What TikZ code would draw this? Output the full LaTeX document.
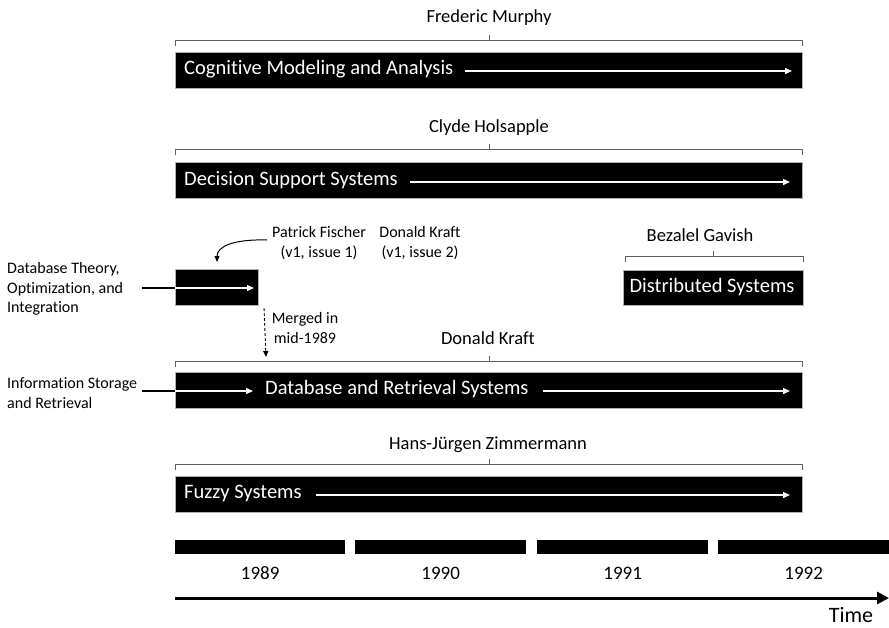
\documentclass[tikz,border=0pt]{standalone}
\usepackage{fontspec}
\setmainfont{Carlito}[Ligatures=NoCommon]
\usetikzlibrary{arrows.meta}
\begin{document}
\begin{tikzpicture}[x=1pt,y=-1pt,
 bar/.style={fill=black, draw=gray!60, line width=0.6pt, anchor=north west, inner sep=0pt},
 bartext/.style={text=white, font=\fontsize{20.5}{24}\selectfont, anchor=west, inner sep=0pt, text height=14pt, text depth=4.5pt},
 lbl/.style={font=\fontsize{18.5}{22}\selectfont, inner sep=0pt},
 side/.style={font=\fontsize{16}{19.5}\selectfont, align=left, anchor=west, inner sep=0pt},
 note/.style={font=\fontsize{16}{20}\selectfont, align=center, inner sep=0pt},
 warr/.style={white, line width=1.4pt, -{Triangle[length=7pt,width=6pt]}},
 karr/.style={black, line width=1.2pt, -{Triangle[length=7pt,width=6pt]}},
 brk/.style={draw=gray!75!black, line width=0.8pt},
 yearbar/.style={fill=black, draw=none, anchor=north west, inner sep=0pt, minimum height=14pt},
]
\useasboundingbox (0,0) rectangle (889,627);

% ---- Row 1: Cognitive Modeling and Analysis
\node[lbl] (l1) at (489,18) {Frederic Murphy};
\draw[brk] (175,46) -- (175,40) -- (802,40) -- (802,46);
\draw[brk] (489,40) -- (489,35);
\node[bar, minimum width=627pt, minimum height=36pt] (b1) at (175,52) {};
\node[bartext] (t1) at (184,70) {Cognitive Modeling and Analysis};
\coordinate (e1) at (792,71);
\draw[warr] ([xshift=12pt]t1.east |- e1) -- (e1);

% ---- Row 2: Decision Support Systems
\node[lbl] (l2) at (489,128) {Clyde Holsapple};
\draw[brk] (175,155) -- (175,149) -- (802,149) -- (802,155);
\draw[brk] (489,149) -- (489,144);
\node[bar, minimum width=627pt, minimum height=36pt] (b2) at (175,162) {};
\node[bartext] (t2) at (184,181) {Decision Support Systems};
\coordinate (e2) at (790,182);
\draw[warr] ([xshift=12pt]t2.east |- e2) -- (e2);

% ---- Row 3: Database Theory box and Distributed Systems
\node[side] (dbt) at (7,289) {Database Theory,\\Optimization, and\\Integration};
\node[bar, minimum width=83pt, minimum height=36pt] (b3) at (175,269) {};
\coordinate (s3) at (142,288);
\coordinate (e3) at (254,288);
\draw[karr, -] (s3) -- (b3.west |- e3);
\draw[warr] (b3.west |- e3) -- (e3);

\node[note] (pf) at (319,243) {Patrick Fischer\\(v1, issue 1)};
\node[note] (dk1) at (420,243) {Donald Kraft\\(v1, issue 2)};
\coordinate (cs) at (267,240);
\coordinate (ce) at (217,262);
\draw[black, line width=1pt, -{Triangle[length=6pt,width=5pt]}] (cs) .. controls (232,239) and (217,247) .. (ce);

\node[lbl] (l3) at (700,235) {Bezalel Gavish};
\draw[brk] (625,262) -- (625,256) -- (803,256) -- (803,262);
\draw[brk] (713,256) -- (713,251);
\node[bar, minimum width=180pt, minimum height=35pt] (b4) at (623,270) {};
\node[bartext, anchor=center] (t4) at (712,288) {Distributed Systems};

% ---- merged arrow
\coordinate (m1) at (264,308);
\coordinate (m2) at (266,357);
\draw[black, line width=0.9pt, dash pattern=on 3pt off 2pt, -{Triangle[length=6pt,width=5pt]}] (m1) -- (m2);
\node[note] (mg) at (305,328) {Merged in\\mid-1989};

% ---- Row 4: Database and Retrieval Systems
\node[lbl] (l5) at (488,338) {Donald Kraft};
\draw[brk] (175,367) -- (175,361) -- (802,361) -- (802,367);
\draw[brk] (489,361) -- (489,356);
\node[bar, minimum width=627pt, minimum height=36pt] (b5) at (175,372) {};
\node[side] (isr) at (7,393) {Information Storage\\and Retrieval};
\node[bartext] (t5) at (265,390) {Database and Retrieval Systems};
\coordinate (s5) at (142,391);
\coordinate (e5) at (790,391);
\draw[karr, -] (s5) -- (b5.west |- s5);
\draw[warr] (b5.west |- s5) -- ([xshift=-12pt]t5.west |- s5);
\draw[warr] ([xshift=14pt]t5.east |- e5) -- (e5);

% ---- Row 5: Fuzzy Systems
\node[lbl] (l6) at (488,445) {Hans-Jürgen Zimmermann};
\draw[brk] (175,470) -- (175,464) -- (802,464) -- (802,470);
\draw[brk] (489,464) -- (489,459);
\node[bar, minimum width=627pt, minimum height=36pt] (b6) at (175,476) {};
\node[bartext] (t6) at (184,494) {Fuzzy Systems};
\coordinate (e6) at (790,495);
\draw[warr] ([xshift=14pt]t6.east |- e6) -- (e6);

% ---- Years
\node[yearbar, minimum width=170pt] (y1) at (175,540) {};
\node[yearbar, minimum width=171pt] (y2) at (355,540) {};
\node[yearbar, minimum width=171pt] (y3) at (537,540) {};
\node[yearbar, minimum width=171pt] (y4) at (718,540) {};
\node[lbl, font=\fontsize{19}{22}\selectfont] (yl1) at (y1.south |- 0,573) {1989};
\node[lbl, font=\fontsize{19}{22}\selectfont] (yl2) at (y2.south |- 0,573) {1990};
\node[lbl, font=\fontsize{19}{22}\selectfont] (yl3) at (y3.south |- 0,573) {1991};
\node[lbl, font=\fontsize{19}{22}\selectfont] (yl4) at (y4.south |- 0,573) {1992};

\coordinate (ts) at (175,598);
\coordinate (te) at (889,598);
\draw[black, line width=3pt, -{Triangle[length=12pt,width=12pt]}] (ts) -- (te);
\node[lbl, font=\fontsize{22}{24}\selectfont] (tm) at (851,615) {Time};
\end{tikzpicture}
\end{document}
